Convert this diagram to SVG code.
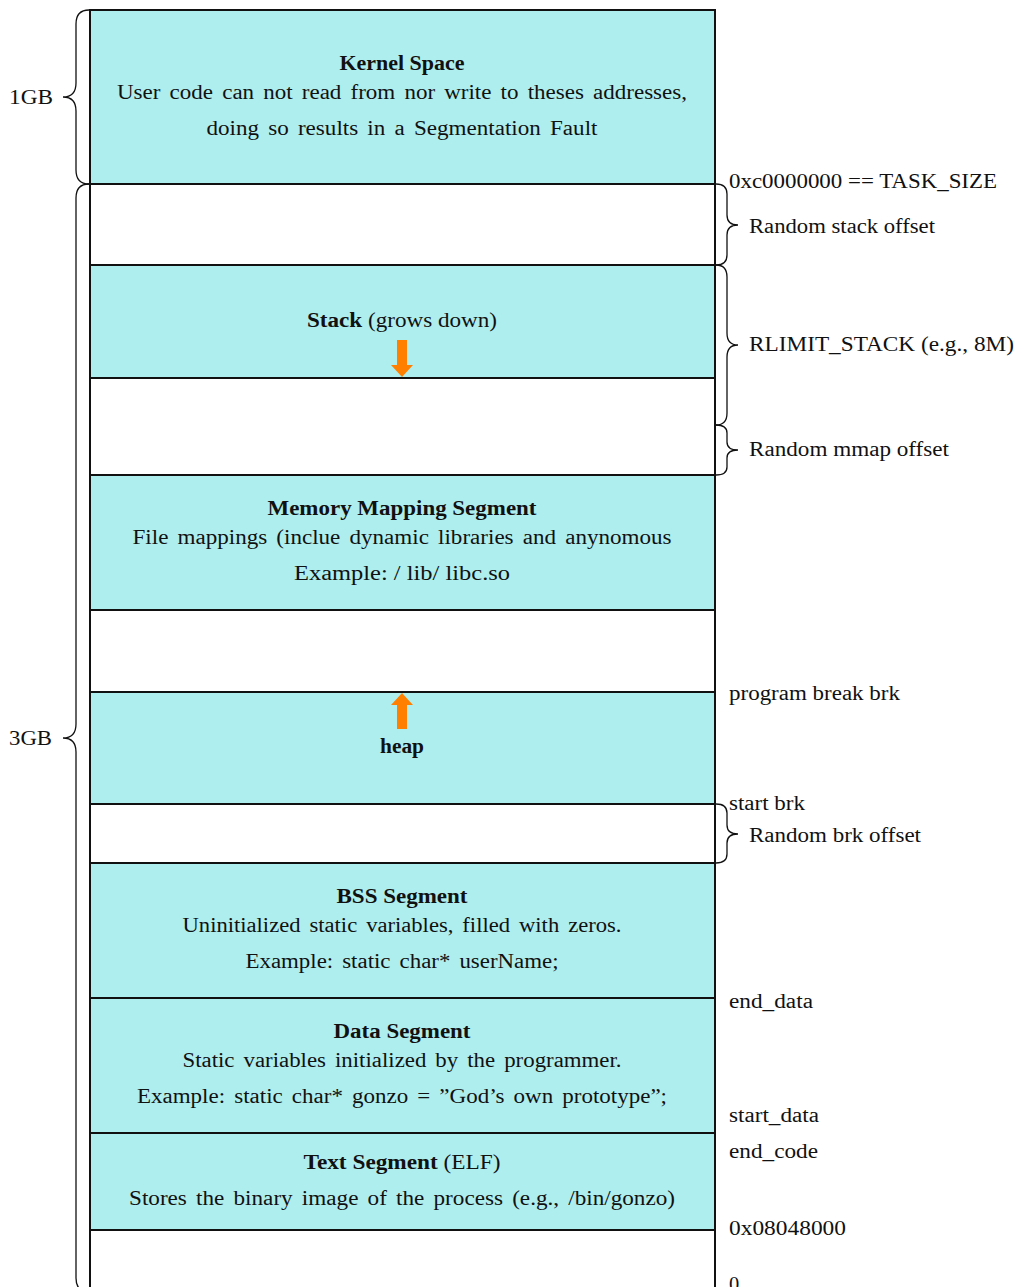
<svg xmlns="http://www.w3.org/2000/svg" width="1019" height="1287" viewBox="0 0 1019 1287">
<style>
text{font-family:"Liberation Serif","DejaVu Serif",serif;font-size:20.5px;fill:#111}
.c{text-anchor:middle}
.b{font-weight:bold}
.seg{fill:#AFEEEE;stroke:#111;stroke-width:2}
.gap{fill:#fff;stroke:#111;stroke-width:2}
.brace{fill:none;stroke:#111;stroke-width:1.3}
.arr{fill:#FF8000}
</style>
<rect width="1019" height="1287" fill="#fff"/>
<g id="kernel"><rect class="seg" x="90" y="10" width="625" height="174"/>
<text class="c b" x="402" y="70" textLength="125" lengthAdjust="spacingAndGlyphs">Kernel Space</text>
<text class="c" x="402" y="99" textLength="570" lengthAdjust="spacingAndGlyphs" word-spacing="3">User code can not read from nor write to theses addresses,</text>
<text class="c" x="402" y="135" textLength="391" lengthAdjust="spacingAndGlyphs" word-spacing="3">doing so results in a Segmentation Fault</text></g>
<g id="gap-stack"><rect class="gap" x="90" y="184" width="625" height="81"/></g>
<g id="stack"><rect class="seg" x="90" y="265" width="625" height="113"/>
<text class="c" x="402" y="327" textLength="190" lengthAdjust="spacingAndGlyphs"><tspan class="b">Stack</tspan>  (grows  down)</text></g>
<g id="gap-mmap"><rect class="gap" x="90" y="378" width="625" height="97"/></g>
<g id="mmap"><rect class="seg" x="90" y="475" width="625" height="135"/>
<text class="c b" x="402" y="515" textLength="269" lengthAdjust="spacingAndGlyphs">Memory Mapping Segment</text>
<text class="c" x="402" y="544" textLength="539" lengthAdjust="spacingAndGlyphs" word-spacing="3">File mappings (inclue dynamic libraries and anynomous</text>
<text class="c" x="402" y="580" textLength="216" lengthAdjust="spacingAndGlyphs">Example:  / lib/ libc.so</text></g>
<g id="gap-free"><rect class="gap" x="90" y="610" width="625" height="82"/></g>
<g id="heap"><rect class="seg" x="90" y="692" width="625" height="112"/>
<text class="c b" x="402" y="753" textLength="44" lengthAdjust="spacingAndGlyphs">heap</text></g>
<g id="gap-brk"><rect class="gap" x="90" y="804" width="625" height="59"/></g>
<g id="bss"><rect class="seg" x="90" y="863" width="625" height="135"/>
<text class="c b" x="402" y="903" textLength="131" lengthAdjust="spacingAndGlyphs">BSS Segment</text>
<text class="c" x="402" y="932" textLength="439" lengthAdjust="spacingAndGlyphs" word-spacing="3">Uninitialized static variables, filled with zeros.</text>
<text class="c" x="402" y="968" textLength="313" lengthAdjust="spacingAndGlyphs" word-spacing="3">Example:  static char* userName;</text></g>
<g id="data"><rect class="seg" x="90" y="998" width="625" height="135"/>
<text class="c b" x="402" y="1038" textLength="137" lengthAdjust="spacingAndGlyphs">Data Segment</text>
<text class="c" x="402" y="1067" textLength="439" lengthAdjust="spacingAndGlyphs" word-spacing="3">Static variables initialized by the programmer.</text>
<text class="c" x="402" y="1103" textLength="530" lengthAdjust="spacingAndGlyphs" word-spacing="3">Example:  static char* gonzo = ”God’s own prototype”;</text></g>
<g id="text-seg"><rect class="seg" x="90" y="1133" width="625" height="97"/>
<text class="c" x="402" y="1169" textLength="197" lengthAdjust="spacingAndGlyphs"><tspan class="b">Text Segment</tspan>  (ELF)</text>
<text class="c" x="402" y="1205" textLength="546" lengthAdjust="spacingAndGlyphs" word-spacing="3">Stores the binary image of the process (e.g., /bin/gonzo)</text></g>
<g id="gap-low"><rect class="gap" x="90" y="1230" width="625" height="70"/></g>
<g id="connectors">
<path class="arr" d="M397,340 H407 V365 H413 L402,377 L391,365 H397 Z"/>
<path class="arr" d="M397,729 H407 V705 H413 L402,693 L391,705 H397 Z"/>
<path class="brace" d="M89,10 Q76,10 76,24 V83 Q76,97 63,97 Q76,97 76,111 V170 Q76,184 89,184"/>
<path class="brace" d="M89,184 Q76,184 76,198 V724 Q76,738 63,738 Q76,738 76,752 V1278 Q76,1292 89,1292"/>
<path class="brace" d="M716,184 Q727,184 727,194 V215 Q727,225 738,225 Q727,225 727,235 V255 Q727,265 716,265"/>
<path class="brace" d="M716,265 Q727,265 727,277 V333 Q727,345 738,345 Q727,345 727,357 V413 Q727,425 716,425"/>
<path class="brace" d="M716,425 Q727,425 727,433 V442 Q727,450 738,450 Q727,450 727,458 V467 Q727,475 716,475"/>
<path class="brace" d="M716,804 Q727,804 727,813 V825 Q727,834 738,834 Q727,834 727,843 V854 Q727,863 716,863"/>
</g>
<g id="labels">
<text x="9" y="104" textLength="44" lengthAdjust="spacingAndGlyphs">1GB</text>
<text x="9" y="745" textLength="43" lengthAdjust="spacingAndGlyphs">3GB</text>
<text x="729" y="188" textLength="268" lengthAdjust="spacingAndGlyphs">0xc0000000 == TASK_SIZE</text>
<text x="749" y="233" textLength="186" lengthAdjust="spacingAndGlyphs">Random stack offset</text>
<text x="749" y="351" textLength="265" lengthAdjust="spacingAndGlyphs">RLIMIT_STACK (e.g., 8M)</text>
<text x="749" y="456" textLength="200" lengthAdjust="spacingAndGlyphs">Random mmap offset</text>
<text x="729" y="700" textLength="171" lengthAdjust="spacingAndGlyphs">program break brk</text>
<text x="729" y="810" textLength="76" lengthAdjust="spacingAndGlyphs">start brk</text>
<text x="749" y="842" textLength="172" lengthAdjust="spacingAndGlyphs">Random brk offset</text>
<text x="729" y="1008" textLength="84" lengthAdjust="spacingAndGlyphs">end_data</text>
<text x="729" y="1122" textLength="90" lengthAdjust="spacingAndGlyphs">start_data</text>
<text x="729" y="1158" textLength="89" lengthAdjust="spacingAndGlyphs">end_code</text>
<text x="729" y="1235" textLength="117" lengthAdjust="spacingAndGlyphs">0x08048000</text>
<text x="729" y="1291">0</text>
</g>
</svg>
